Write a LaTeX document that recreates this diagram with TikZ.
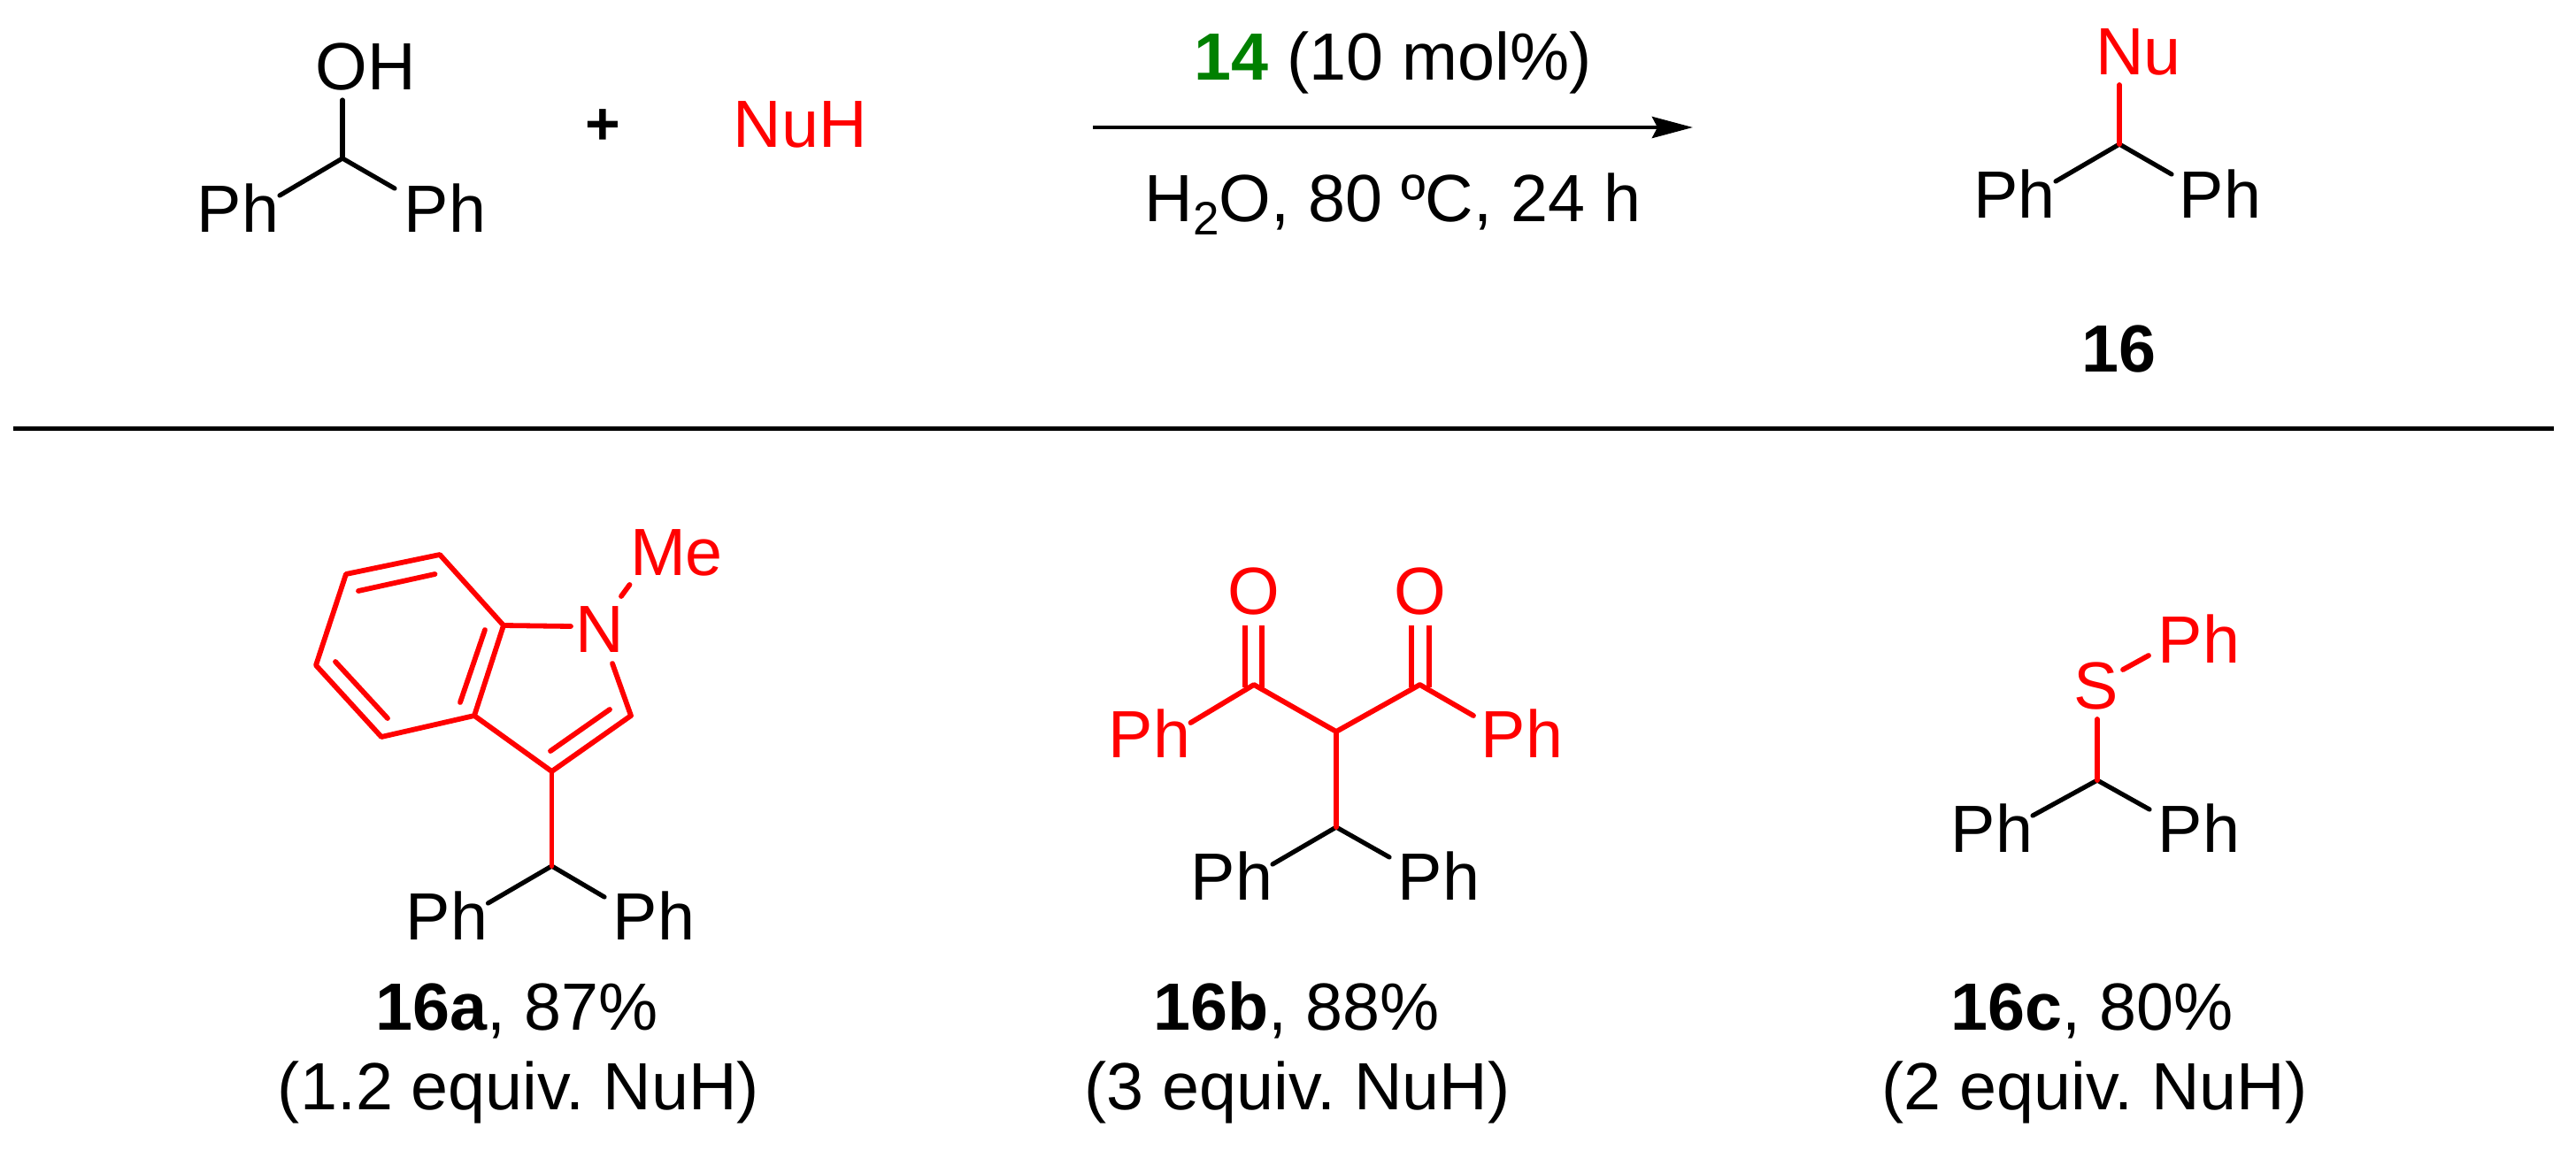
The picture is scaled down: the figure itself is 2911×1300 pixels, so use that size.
\documentclass[tikz,border=0pt]{standalone}
\usepackage{fontspec}
\setmainfont{Liberation Sans}
\usetikzlibrary{arrows.meta}
\definecolor{nured}{HTML}{FF0000}
\definecolor{catgreen}{HTML}{008000}
\tikzset{
  lbl/.style={inner sep=0pt,outer sep=0pt,anchor=base,font=\fontsize{75.5}{80}\selectfont\frenchspacing},
  redlbl/.style={lbl,text=nured},
  bond/.style={line width=5.2pt,line cap=round,line join=round,black},
  redbond/.style={line width=5.8pt,line cap=round,line join=round,nured},
  rule/.style={line width=5pt,black},
  rxn/.style={line width=4.6pt,black,-{Stealth[length=46pt,width=24pt,inset=6pt]}}
}
\begin{document}
\begin{tikzpicture}[x=1pt,y=-1pt]
\useasboundingbox (0,0) rectangle (2911,1300);

% Reactants
\node[lbl] (oh) at (413.5,102) {OH};
\node[lbl] (pha) at (269,262) {Ph};
\node[lbl] (phb) at (503,262) {Ph};
\node[inner sep=0pt,outer sep=0pt,font=\fontsize{68}{70}\bfseries\selectfont] (plus) at (681,144) {+};
\node[redlbl] (nuh) at (904.5,167) {NuH};
\coordinate (c0) at (387,179);
\coordinate (c0o) at (387,113);
\coordinate (c0l) at (316,221);
\coordinate (c0r) at (446,213);
\draw[bond] (c0o) -- (c0);
\draw[bond] (c0l) -- (c0) -- (c0r);

% Arrow and conditions
\node[lbl] (cat) at (1574,91) {\textcolor{catgreen}{\bfseries 14} (10 mol\%)};
\node[lbl] (cond) at (1574,250) {H\raisebox{-15pt}{\fontsize{53}{53}\selectfont 2}O, 80 ºC, 24 h};
\coordinate (ar1) at (1235,144);
\coordinate (ar2) at (1913,144);
\draw[rxn] (ar1) -- (ar2);

% Product 16
\node[redlbl] (nu) at (2416.5,85) {Nu};
\node[lbl] (phc) at (2276.5,246) {Ph};
\node[lbl] (phd) at (2509,246) {Ph};
\node[lbl,font=\fontsize{75.5}{80}\bfseries\selectfont] (l16) at (2394,420) {16};
\coordinate (c1) at (2395,163);
\coordinate (c1n) at (2395,96);
\coordinate (c1l) at (2323,205);
\coordinate (c1r) at (2454,197);
\draw[bond] (c1l) -- (c1) -- (c1r);
\draw[redbond] (c1n) -- (c1);

% Rule
\coordinate (ra) at (15,484.5);
\coordinate (rb) at (2886,484.5);
\draw[rule] (ra) -- (rb);

% 16a
\node[redlbl] (me) at (764.5,650) {Me};
\node[redlbl] (na) at (677.5,737) {N};
\node[lbl] (phe) at (505,1062) {Ph};
\node[lbl] (phf) at (739,1062) {Ph};
\coordinate (a1) at (497,627);
\coordinate (a2) at (391,649);
\coordinate (a3) at (357,752);
\coordinate (a4) at (431,833);
\coordinate (a5) at (536,809);
\coordinate (a6) at (569,707);
\coordinate (a7) at (623.5,872);
\coordinate (a8) at (713,809);
\coordinate (a9) at (692,750);
\coordinate (a10) at (645,708);
\coordinate (a11) at (702,674);
\coordinate (a12) at (711.5,661);
\coordinate (i1) at (405,668);
\coordinate (i2) at (491.5,649);
\coordinate (i3) at (379,748);
\coordinate (i4) at (438,812);
\coordinate (i5) at (520,794);
\coordinate (i6) at (548,712);
\coordinate (i7) at (689,802);
\coordinate (i8) at (622,849);
\coordinate (ach) at (623.5,979);
\coordinate (al) at (551.5,1021);
\coordinate (ar) at (683,1014);
\draw[bond] (al) -- (ach) -- (ar);
\draw[redbond] (a6) -- (a1) -- (a2) -- (a3) -- (a4) -- (a5) -- cycle;
\draw[redbond] (a5) -- (a7) -- (a8) -- (a9);
\draw[redbond] (a6) -- (a10);
\draw[redbond] (a11) -- (a12);
\draw[redbond] (i1) -- (i2);
\draw[redbond] (i3) -- (i4);
\draw[redbond] (i5) -- (i6);
\draw[redbond] (i7) -- (i8);
\draw[redbond] (a7) -- (ach);

% 16b
\node[redlbl] (oa) at (1417,694) {O};
\node[redlbl] (ob) at (1605,694) {O};
\node[redlbl] (phg) at (1299,856) {Ph};
\node[redlbl] (phh) at (1720,856) {Ph};
\node[lbl] (phi) at (1392,1017) {Ph};
\node[lbl] (phj) at (1626,1017) {Ph};
\coordinate (b1) at (1417,774);
\coordinate (b2) at (1604.5,774);
\coordinate (b3) at (1510,827);
\coordinate (b4) at (1510,935);
\coordinate (bl) at (1345.5,817);
\coordinate (br) at (1665,809);
\coordinate (bll) at (1438,977);
\coordinate (brr) at (1570,969);
\coordinate (o1a) at (1407,707);
\coordinate (o1b) at (1407,777);
\coordinate (o1c) at (1426,707);
\coordinate (o1d) at (1426,777);
\coordinate (o2a) at (1595,707);
\coordinate (o2b) at (1595,777);
\coordinate (o2c) at (1615,707);
\coordinate (o2d) at (1615,777);
\draw[bond] (bll) -- (b4) -- (brr);
\draw[redbond] (bl) -- (b1) -- (b3) -- (b2) -- (br);
\draw[redbond] (b3) -- (b4);
\draw[redbond,line cap=butt] (o1a) -- (o1b);
\draw[redbond,line cap=butt] (o1c) -- (o1d);
\draw[redbond,line cap=butt] (o2a) -- (o2b);
\draw[redbond,line cap=butt] (o2c) -- (o2d);

% 16c
\node[redlbl] (phk) at (2485,749) {Ph};
\node[redlbl] (s) at (2369,801) {S};
\node[lbl] (phl) at (2251,963) {Ph};
\node[lbl] (phm) at (2485,963) {Ph};
\coordinate (d0) at (2370,882);
\coordinate (ds) at (2370,813);
\coordinate (d1) at (2399,757);
\coordinate (d2) at (2428,741);
\coordinate (dl) at (2297,922);
\coordinate (dr) at (2429,915);
\draw[bond] (dl) -- (d0) -- (dr);
\draw[redbond] (ds) -- (d0);
\draw[redbond] (d1) -- (d2);

% Captions
\node[lbl] (capa) at (584.5,1164) {\textbf{16a}, 87\%};
\node[lbl] (capb) at (1465,1164) {\textbf{16b}, 88\%};
\node[lbl] (capc) at (2364,1164) {\textbf{16c}, 80\%};
\node[lbl] (eqa) at (586,1254) {(1.2 equiv. NuH)};
\node[lbl] (eqb) at (1466,1254) {(3 equiv. NuH)};
\node[lbl] (eqc) at (2367,1254) {(2 equiv. NuH)};
\end{tikzpicture}
\end{document}
